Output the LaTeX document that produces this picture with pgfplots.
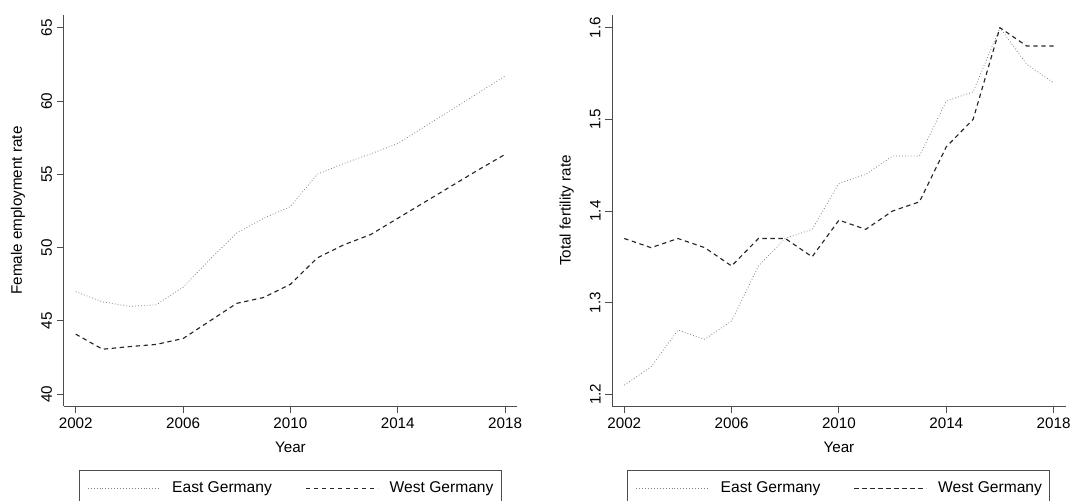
\documentclass[border=0pt]{standalone}
\usepackage{pgfplots}
\pgfplotsset{compat=1.18}
\usepackage{fontspec}
\setmainfont{Liberation Sans}
\begin{document}
\begin{tikzpicture}
\path[use as bounding box] (0,0) rectangle (802.5pt,375pt);
\pgfplotsset{
  every axis/.append style={
    scale only axis,
    width=340pt, height=293.25pt,
    anchor=south west,
    axis x line*=bottom, axis y line*=left,
    axis line style={black!70, line width=0.75pt},
    tick style={black!70, line width=0.75pt},
    tick align=outside,
    major tick length=5.25pt,
    font=\fontsize{11.4}{13.5}\selectfont,
    /pgf/number format/assume math mode=true,
    xmin=2001.553, xmax=2018.447,
    xtick={2002,2006,2010,2014,2018},
    x tick label style={/pgf/number format/1000 sep={}},
    yticklabel style={rotate=90, anchor=south},
    xlabel={Year},
    xlabel style={at={(axis description cs:0.5,-0.1049)}, anchor=center},
    ylabel style={at={(axis description cs:-0.1008,0.5)}, anchor=center},
    legend columns=2,
    legend style={
      at={(0.5,-0.1624)}, anchor=north,
      draw=black!70, line width=0.75pt,
      inner xsep=6pt, inner ysep=9pt,
      nodes={inner sep=0pt, anchor=base west},
      /tikz/column 1/.style={column sep=9pt},
      /tikz/column 2/.style={column sep=25pt},
      /tikz/column 3/.style={column sep=8.5pt},
      /tikz/column 4/.style={column sep=3pt},
      font=\fontsize{11.7}{13.5}\selectfont,
    },
    legend image code/.code={\draw[#1] (0pt,0.3em) -- (54pt,0.3em);},
  },
  eastline/.style={black!50, line width=0.6pt, dash pattern=on 0.6pt off 1.6pt},
  westline/.style={black!85, line width=0.85pt, dash pattern=on 3.3pt off 2.7pt},
}
\begin{axis}[
  at={(47.8pt,70.5pt)},
  ymin=39.2, ymax=65.866,
  ytick={40,45,50,55,60,65},
  ylabel={Female employment rate},
]
\addplot[eastline] coordinates {
(2002,47.0) (2003,46.3) (2004,46.0) (2005,46.1) (2006,47.3) (2007,49.2) (2008,51.0)
(2009,52.0) (2010,52.8) (2011,55.0) (2012,55.75) (2013,56.4) (2014,57.1) (2015,58.25)
(2016,59.4) (2017,60.55) (2018,61.7)};
\addlegendentry{East Germany}
\addplot[westline] coordinates {
(2002,44.1) (2003,43.07) (2004,43.25) (2005,43.4) (2006,43.8) (2007,45.0) (2008,46.2)
(2009,46.6) (2010,47.5) (2011,49.3) (2012,50.2) (2013,50.9) (2014,52.0) (2015,53.1)
(2016,54.2) (2017,55.3) (2018,56.36)};
\addlegendentry{West Germany}
\end{axis}
\begin{axis}[
  at={(459.2pt,70.5pt)},
  ymin=1.1872, ymax=1.6139,
  ytick={1.2,1.3,1.4,1.5,1.6},
  yticklabel style={/pgf/number format/.cd, fixed, fixed zerofill, precision=1},
  ylabel={Total fertility rate},
]
\addplot[eastline] coordinates {
(2002,1.21) (2003,1.23) (2004,1.27) (2005,1.26) (2006,1.28) (2007,1.34) (2008,1.37)
(2009,1.38) (2010,1.43) (2011,1.44) (2012,1.46) (2013,1.46) (2014,1.52) (2015,1.53)
(2016,1.60) (2017,1.56) (2018,1.54)};
\addlegendentry{East Germany}
\addplot[westline] coordinates {
(2002,1.37) (2003,1.36) (2004,1.37) (2005,1.36) (2006,1.34) (2007,1.37) (2008,1.37)
(2009,1.35) (2010,1.39) (2011,1.38) (2012,1.40) (2013,1.41) (2014,1.47) (2015,1.50)
(2016,1.60) (2017,1.58) (2018,1.58)};
\addlegendentry{West Germany}
\end{axis}
\end{tikzpicture}
\end{document}
